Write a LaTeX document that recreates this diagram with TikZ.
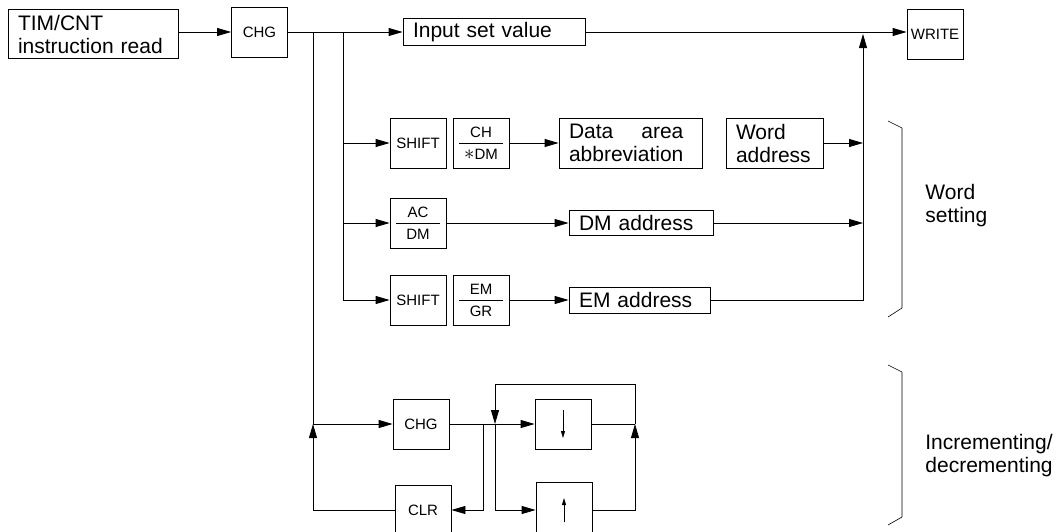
\documentclass[tikz,border=0pt]{standalone}
\usepackage{fontspec}
\setmainfont{Liberation Sans}
\usepackage{calc}
\usetikzlibrary{arrows.meta}
\newcommand\boxfont{\fontsize{21}{23}\selectfont}
\newcommand\keyfont{\fontsize{15}{22}\selectfont}
\begin{document}
\begin{tikzpicture}[x=1pt,y=-1pt,line width=0.8pt,
  >={Triangle[length=14pt,width=8pt]},
  textbox/.style={draw,font=\boxfont,align=left,inner xsep=10pt,inner ysep=0pt},
  keybox/.style={draw,font=\keyfont,minimum width=56pt,minimum height=50pt,inner sep=0pt},
  fracbox/.style={keybox,align=center,path picture={\draw ([xshift=6pt]path picture bounding box.west) -- ([xshift=-6pt]path picture bounding box.east);}},
  dnbox/.style={keybox,path picture={\draw[-{Triangle[length=7pt,width=4pt]}] ([yshift=14pt]path picture bounding box.center) -- ([yshift=-14pt]path picture bounding box.center);}},
  upbox/.style={keybox,path picture={\draw[-{Triangle[length=7pt,width=4pt]}] ([yshift=-12pt]path picture bounding box.center) -- ([yshift=12pt]path picture bounding box.center);}},
  sidetext/.style={font=\boxfont,align=left,anchor=west,inner sep=0pt}]
  \useasboundingbox (0,0) rectangle (1058,531);
  \node[textbox,text width=150pt,minimum height=49pt] (tim) at (93,34) {TIM/CNT\\instruction read};
  \node[keybox] (chg) at (259.5,32) {CHG};
  \node[textbox,text width=162pt,minimum height=27pt] (input) at (494,32) {Input set value};
  \node[keybox] (write) at (935,34) {WRITE};
  \node[keybox] (shift1) at (418,143) {SHIFT};
  \node[fracbox] (chdm) at (481,143) {CH\\{\fontsize{21}{22}\selectfont$\ast$}DM};
  \node[textbox,text width=123pt,minimum height=50pt] (data) at (630.5,143) {\makebox[\widthof{abbreviation}][l]{Data\hfill area}\\abbreviation};
  \node[textbox,text width=77pt,minimum height=50pt] (word) at (774.5,143) {Word\\address};
  \node[fracbox] (acdm) at (418,223) {AC\\DM};
  \node[textbox,text width=124pt,minimum height=25pt] (dmaddr) at (641,223) {DM address};
  \node[keybox] (shift2) at (418,300) {SHIFT};
  \node[fracbox] (emgr) at (481,300) {EM\\GR};
  \node[textbox,text width=121pt,minimum height=26pt] (emaddr) at (639.5,300) {EM address};
  \node[keybox] (chg2) at (421,424) {CHG};
  \node[keybox] (clr) at (423,510) {CLR};
  \node[dnbox] (dn) at (563,424) {};
  \node[upbox,minimum height=56pt] (up) at (564,510) {};
  \node[sidetext] (wset) at (925,206) {Word\\setting};
  \node[sidetext] (incdec) at (925,456) {Incrementing/\\decrementing};
  \coordinate (ja) at (313,32);
  \coordinate (jb) at (343,32);
  \coordinate (col) at (863,32);
  \coordinate (jc) at (483,424);
  \coordinate (jd) at (495,424);
  \coordinate (lt) at (495,384);
  \coordinate (je) at (635,424);
  \draw[->] (tim.east |- chg.west) -- (chg.west);
  \draw[->] (chg.east) -- (input.west);
  \draw[->] (input.east) -- (write.west |- input.east);
  \draw[->] (jb) |- (shift2.west);
  \draw[->] (jb |- shift1.west) -- (shift1.west);
  \draw[->] (jb |- acdm.west) -- (acdm.west);
  \draw[->] (chdm.east) -- (data.west);
  \draw[->] (word.east) -- (col |- word.east);
  \draw[->] (acdm.east) -- (dmaddr.west);
  \draw[->] (dmaddr.east) -- (col |- dmaddr.east);
  \draw[->] (emgr.east) -- (emaddr.west);
  \draw[->,shorten >=2pt] (emaddr.east) -| (col);
  \draw (ja) -- (ja |- chg2.west);
  \draw[->] (clr.west) -| (ja |- chg2.west);
  \draw[->] (ja |- chg2.west) -- (chg2.west);
  \draw[->] (chg2.east) -- (dn.west);
  \draw[->] (jc) |- (clr.east);
  \draw[->] (je) |- (lt) -- (jd);
  \draw[->] (jd) |- (up.west);
  \draw[->] (up.east) -| (je);
  \draw (dn.east) -- (je);
  \draw[line width=0.6pt] (888,121) -- (902,128) -- (902,308) -- (888,317);
  \draw[line width=0.6pt] (888,365) -- (902,372) -- (902,517) -- (888,525);
\end{tikzpicture}
\end{document}
